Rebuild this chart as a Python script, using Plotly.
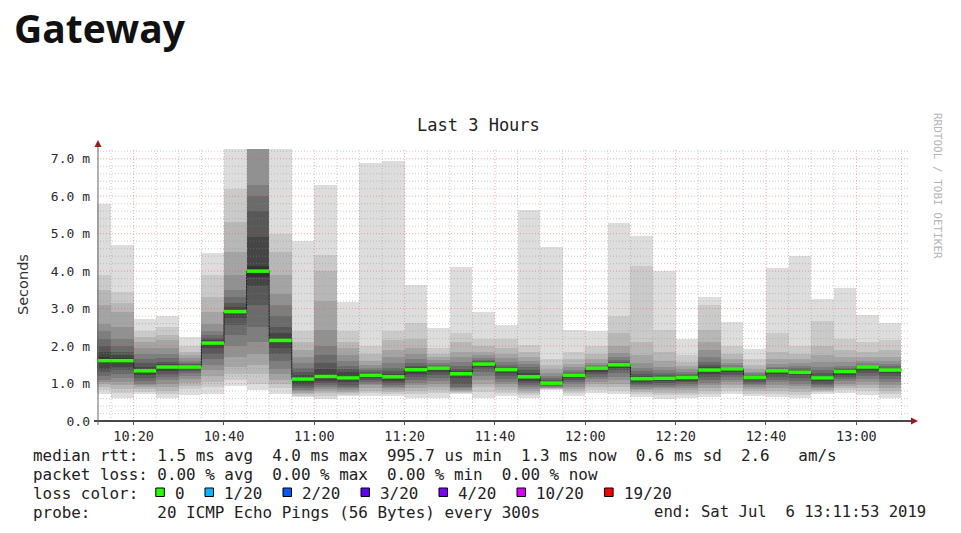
import pandas as pd
import plotly.graph_objects as go

DAY = "2019-07-06"
window = ["10:11:53", "13:11:53"]

# start of each 5 minute step (one smoke bar per step)
bar_start = [
    "10:10", "10:15", "10:20", "10:25", "10:30", "10:35", "10:40", "10:45", "10:50",
    "10:55", "11:00", "11:05", "11:10", "11:15", "11:20", "11:25", "11:30", "11:35",
    "11:40", "11:45", "11:50", "11:55", "12:00", "12:05", "12:10", "12:15", "12:20",
    "12:25", "12:30", "12:35", "12:40", "12:45", "12:50", "12:55", "13:00", "13:05",
]

# median rtt per step, ms
median_ms = [
    1.61, 1.61, 1.34, 1.44, 1.44, 2.08, 2.92, 4.00, 2.15, 1.12,
    1.19, 1.15, 1.22, 1.18, 1.37, 1.41, 1.26, 1.52, 1.37, 1.18,
    1.01, 1.22, 1.41, 1.50, 1.13, 1.14, 1.16, 1.36, 1.39, 1.16,
    1.34, 1.30, 1.15, 1.32, 1.44, 1.36,
]

# the 20 sorted ping rtts of every step, ms
pings_1010 = [0.72, 0.82, 0.90, 0.98, 1.05, 1.10, 1.20, 1.30, 1.40, 1.55, 1.70, 1.85, 2.00, 2.20, 2.40, 2.60, 3.10, 3.50, 3.90, 5.80]
pings_1015 = [0.62, 0.75, 0.85, 0.95, 1.05, 1.15, 1.25, 1.35, 1.45, 1.55, 1.68, 1.75, 1.85, 2.00, 2.20, 2.50, 2.90, 3.15, 3.45, 4.71]
pings_1020 = [0.71, 0.78, 0.85, 0.90, 0.95, 1.00, 1.08, 1.15, 1.22, 1.30, 1.38, 1.45, 1.55, 1.65, 1.80, 1.95, 2.10, 2.25, 2.40, 2.72]
pings_1025 = [0.62, 0.72, 0.80, 0.90, 1.00, 1.10, 1.18, 1.25, 1.33, 1.40, 1.47, 1.52, 1.58, 1.68, 1.80, 1.95, 2.15, 2.30, 2.50, 2.79]
pings_1030 = [0.70, 0.85, 0.93, 1.02, 1.12, 1.20, 1.27, 1.33, 1.38, 1.42, 1.46, 1.48, 1.51, 1.55, 1.60, 1.67, 1.75, 1.85, 2.00, 2.24]
pings_1035 = [0.71, 0.90, 1.05, 1.20, 1.35, 1.50, 1.65, 1.80, 1.95, 2.05, 2.11, 2.15, 2.22, 2.30, 2.40, 2.60, 2.90, 3.30, 3.90, 4.48]
pings_1040 = [0.94, 1.10, 1.25, 1.45, 1.70, 2.00, 2.30, 2.55, 2.75, 2.88, 2.97, 3.05, 3.15, 3.30, 3.50, 3.90, 4.50, 5.30, 6.20, 7.60]
pings_1045 = [0.82, 1.00, 1.25, 1.50, 1.80, 2.10, 2.50, 3.10, 3.60, 3.85, 4.15, 4.90, 5.60, 6.00, 6.30, 7.40, 7.80, 8.30, 8.90, 9.60]
pings_1050 = [0.72, 0.88, 1.00, 1.10, 1.25, 1.40, 1.60, 1.80, 1.95, 2.10, 2.20, 2.35, 2.50, 2.80, 3.10, 3.40, 3.90, 4.50, 5.00, 7.50]
pings_1055 = [0.64, 0.68, 0.72, 0.76, 0.80, 0.84, 0.89, 0.94, 1.00, 1.08, 1.17, 1.24, 1.32, 1.42, 1.55, 1.70, 1.90, 2.10, 2.40, 4.81]
pings_1100 = [0.60, 0.68, 0.74, 0.80, 0.85, 0.90, 0.96, 1.02, 1.08, 1.15, 1.25, 1.38, 1.55, 1.75, 2.00, 2.43, 3.20, 4.00, 4.44, 6.31]
pings_1105 = [0.66, 0.70, 0.74, 0.78, 0.82, 0.87, 0.92, 0.97, 1.03, 1.10, 1.20, 1.30, 1.38, 1.47, 1.60, 1.75, 1.95, 2.10, 2.40, 3.18]
pings_1110 = [0.66, 0.74, 0.80, 0.88, 0.95, 1.00, 1.05, 1.10, 1.15, 1.20, 1.24, 1.27, 1.31, 1.36, 1.42, 1.50, 1.60, 1.80, 2.00, 6.88]
pings_1115 = [0.66, 0.72, 0.77, 0.82, 0.87, 0.92, 0.97, 1.02, 1.08, 1.14, 1.21, 1.26, 1.33, 1.42, 1.55, 1.70, 1.90, 2.15, 2.40, 6.95]
pings_1120 = [0.62, 0.72, 0.80, 0.88, 0.95, 1.02, 1.10, 1.17, 1.25, 1.33, 1.39, 1.43, 1.48, 1.55, 1.65, 1.80, 1.95, 2.20, 2.62, 3.64]
pings_1125 = [0.62, 0.75, 0.84, 0.92, 1.00, 1.08, 1.15, 1.22, 1.30, 1.38, 1.42, 1.44, 1.46, 1.50, 1.55, 1.62, 1.70, 1.80, 1.95, 2.49]
pings_1130 = [0.72, 0.74, 0.77, 0.80, 0.84, 0.88, 0.92, 1.00, 1.15, 1.23, 1.29, 1.34, 1.40, 1.48, 1.58, 1.70, 1.85, 2.10, 2.35, 4.10]
pings_1135 = [0.62, 0.78, 0.90, 1.00, 1.10, 1.20, 1.30, 1.38, 1.45, 1.50, 1.54, 1.56, 1.59, 1.63, 1.68, 1.75, 1.85, 2.00, 2.20, 2.91]
pings_1140 = [0.66, 0.74, 0.82, 0.90, 0.98, 1.05, 1.12, 1.20, 1.28, 1.34, 1.39, 1.41, 1.45, 1.50, 1.58, 1.68, 1.80, 1.95, 2.20, 2.55]
pings_1145 = [0.62, 0.70, 0.75, 0.80, 0.85, 0.90, 0.96, 1.02, 1.08, 1.15, 1.22, 1.28, 1.36, 1.44, 1.52, 1.60, 1.70, 1.85, 2.04, 5.64]
pings_1150 = [0.84, 0.85, 0.86, 0.87, 0.89, 0.91, 0.93, 0.95, 0.97, 1.00, 1.03, 1.05, 1.09, 1.14, 1.20, 1.28, 1.38, 1.50, 1.65, 4.65]
pings_1155 = [0.66, 0.74, 0.80, 0.86, 0.92, 0.98, 1.04, 1.10, 1.15, 1.20, 1.24, 1.26, 1.29, 1.32, 1.37, 1.43, 1.52, 1.65, 1.85, 2.44]
pings_1200 = [0.75, 0.82, 0.90, 0.98, 1.05, 1.12, 1.18, 1.25, 1.32, 1.38, 1.42, 1.43, 1.45, 1.47, 1.50, 1.56, 1.65, 1.80, 2.00, 2.40]
pings_1205 = [0.72, 0.80, 0.90, 1.00, 1.10, 1.18, 1.27, 1.35, 1.42, 1.48, 1.52, 1.54, 1.57, 1.62, 1.70, 1.82, 2.00, 2.35, 2.80, 5.28]
pings_1210 = [0.65, 0.72, 0.77, 0.82, 0.86, 0.90, 0.95, 0.99, 1.04, 1.10, 1.16, 1.20, 1.26, 1.33, 1.42, 1.55, 1.75, 2.10, 4.13, 4.93]
pings_1215 = [0.60, 0.70, 0.76, 0.82, 0.87, 0.92, 0.97, 1.02, 1.07, 1.12, 1.16, 1.19, 1.22, 1.28, 1.36, 1.45, 1.60, 1.85, 2.44, 4.00]
pings_1220 = [0.62, 0.70, 0.76, 0.82, 0.88, 0.93, 0.98, 1.03, 1.08, 1.13, 1.17, 1.19, 1.22, 1.26, 1.31, 1.38, 1.46, 1.58, 1.75, 2.20]
pings_1225 = [0.64, 0.72, 0.80, 0.88, 0.95, 1.02, 1.10, 1.18, 1.26, 1.33, 1.38, 1.43, 1.50, 1.58, 1.70, 1.90, 2.10, 2.44, 3.10, 3.32]
pings_1230 = [0.72, 0.80, 0.88, 0.96, 1.03, 1.10, 1.17, 1.24, 1.30, 1.36, 1.40, 1.41, 1.43, 1.45, 1.49, 1.55, 1.65, 1.80, 2.00, 2.64]
pings_1235 = [0.66, 0.72, 0.79, 0.85, 0.90, 0.95, 1.00, 1.05, 1.10, 1.14, 1.17, 1.18, 1.20, 1.23, 1.27, 1.32, 1.40, 1.50, 1.65, 1.91]
pings_1240 = [0.64, 0.72, 0.80, 0.88, 0.96, 1.03, 1.10, 1.18, 1.25, 1.31, 1.35, 1.36, 1.38, 1.41, 1.45, 1.53, 1.65, 1.85, 2.35, 4.08]
pings_1245 = [0.62, 0.70, 0.78, 0.85, 0.93, 1.00, 1.08, 1.15, 1.22, 1.28, 1.32, 1.34, 1.37, 1.41, 1.47, 1.55, 1.65, 1.80, 2.00, 4.41]
pings_1250 = [0.73, 0.77, 0.80, 0.84, 0.88, 0.92, 0.96, 1.00, 1.06, 1.12, 1.17, 1.21, 1.27, 1.35, 1.45, 1.58, 1.75, 2.00, 2.66, 3.26]
pings_1255 = [0.76, 0.82, 0.88, 0.94, 1.00, 1.06, 1.12, 1.18, 1.24, 1.29, 1.33, 1.35, 1.38, 1.42, 1.48, 1.57, 1.70, 1.90, 2.20, 3.55]
pings_1300 = [0.70, 0.79, 0.87, 0.95, 1.03, 1.11, 1.19, 1.27, 1.35, 1.41, 1.45, 1.46, 1.48, 1.50, 1.54, 1.60, 1.70, 1.85, 2.10, 2.84]
pings_1305 = [0.62, 0.72, 0.80, 0.88, 0.96, 1.04, 1.12, 1.20, 1.28, 1.34, 1.38, 1.40, 1.42, 1.46, 1.52, 1.60, 1.72, 1.90, 2.15, 2.62]

x_tick_labels = ["10:20", "10:40", "11:00", "11:20", "11:40", "12:00", "12:20", "12:40", "13:00"]
y_tick_vals = [0, 1, 2, 3, 4, 5, 6, 7]
y_tick_labels = ["0.0", "1.0 m", "2.0 m", "3.0 m", "4.0 m", "5.0 m", "6.0 m", "7.0 m"]

loss_labels = ["0", "1/20", "2/20", "3/20", "4/20", "10/20", "19/20"]
loss_colors = ["#26ff00", "#00b8ff", "#0059ff", "#5e00ff", "#7e00ff", "#dd00ff", "#ff0000"]

rtt_line = "median rtt:  1.5 ms avg  4.0 ms max  995.7 us min  1.3 ms now  0.6 ms sd  2.6   am/s"
loss_line = "packet loss: 0.00 % avg  0.00 % max  0.00 % min  0.00 % now"
color_head = "loss color:"
probe_line = "probe:       20 ICMP Echo Pings (56 Bytes) every 300s"
end_line = "end: Sat Jul  6 13:11:53 2019"

smoke_rows = [
    pings_1010, pings_1015, pings_1020, pings_1025, pings_1030, pings_1035,
    pings_1040, pings_1045, pings_1050, pings_1055, pings_1100, pings_1105,
    pings_1110, pings_1115, pings_1120, pings_1125, pings_1130, pings_1135,
    pings_1140, pings_1145, pings_1150, pings_1155, pings_1200, pings_1205,
    pings_1210, pings_1215, pings_1220, pings_1225, pings_1230, pings_1235,
    pings_1240, pings_1245, pings_1250, pings_1255, pings_1300, pings_1305,
]

MONO = "DejaVu Sans Mono"
STEP = pd.Timedelta(minutes=5)
W, H = 961, 533
ML, MR, MT, MB = 97, 51, 149, 112
PW, PH = W - ML - MR, H - MT - MB


def px(x):
    return (x - ML) / PW


def py(y):
    return (H - MB - y) / PH


def nb(s):
    return s.replace(" ", "\u00a0")


def label(txt, x, y, anchor="left", size=15.9):
    return dict(text=nb(txt), x=px(x), y=py(y), xref="paper", yref="paper",
                xanchor=anchor, yanchor="middle", showarrow=False,
                font=dict(family=MONO, size=size, color="#222222"))


starts = pd.to_datetime([f"{DAY} {t}" for t in bar_start])
centers = starts + STEP / 2
ends = starts + STEP

fig = go.Figure()

# smoke: band i spans ping i .. ping 21-i, darker towards the middle
half = 10
for i in range(1, half + 1):
    grey = int(190 / half * (half - i)) + 50
    lo = [row[i - 1] for row in smoke_rows]
    hi = [row[20 - i] for row in smoke_rows]
    fig.add_trace(
        go.Bar(
            x=centers,
            y=[h - l for h, l in zip(hi, lo)],
            base=lo,
            width=STEP.total_seconds() * 1000,
            marker=dict(color=f"rgb({grey},{grey},{grey})", line=dict(width=0)),
            showlegend=False,
            hoverinfo="skip",
        )
    )

# thin dark step joining the medians
fig.add_trace(
    go.Scatter(
        x=list(starts) + [ends[-1]],
        y=median_ms + [median_ms[-1]],
        mode="lines",
        line=dict(shape="hv", color="#202020", width=1),
        showlegend=False,
        hoverinfo="skip",
    )
)

# median bars coloured by loss (all 0 loss -> green)
mx, my = [], []
for s, e, m in zip(starts, ends, median_ms):
    mx += [s, e, None]
    my += [m, m, None]
fig.add_trace(
    go.Scatter(
        x=mx, y=my, mode="lines",
        line=dict(color=loss_colors[0], width=3.5),
        showlegend=False, hoverinfo="skip",
    )
)

shapes = []
# rrdtool grid is painted over the graph
t0 = pd.Timestamp(f"{DAY} {window[0]}")
t1 = pd.Timestamp(f"{DAY} {window[1]}")
t = t0.ceil("5min")
while t < t1:
    major = t.minute % 20 == 0
    shapes.append(dict(
        type="line", xref="x", yref="paper", x0=t, x1=t, y0=0, y1=1, layer="above",
        line=dict(color="rgba(255,60,60,0.45)" if major else "rgba(140,140,140,0.45)",
                  width=1, dash="1px,2px"),
    ))
    t += STEP
for k in range(1, 37):
    v = k * 0.2
    major = k % 5 == 0
    shapes.append(dict(
        type="line", xref="paper", yref="y", x0=0, x1=1, y0=v, y1=v, layer="above",
        line=dict(color="rgba(255,60,60,0.45)" if major else "rgba(140,140,140,0.45)",
                  width=1, dash="1px,2px"),
    ))

# axes with arrows
shapes.append(dict(type="line", xref="paper", yref="paper", x0=px(94), x1=px(912),
                   y0=py(421), y1=py(421), line=dict(color="#484848", width=2), layer="above"))
shapes.append(dict(type="line", xref="paper", yref="paper", x0=px(98), x1=px(98),
                   y0=py(425), y1=py(146), line=dict(color="#666666", width=1), layer="above"))
shapes.append(dict(type="path", xref="paper", yref="paper", layer="above",
                   path=f"M{px(911)},{py(417.5)} L{px(918)},{py(421)} L{px(911)},{py(424.5)} Z",
                   fillcolor="#a01818", line=dict(width=0)))
shapes.append(dict(type="path", xref="paper", yref="paper", layer="above",
                   path=f"M{px(94.5)},{py(147)} L{px(98)},{py(140)} L{px(101.5)},{py(147)} Z",
                   fillcolor="#a01818", line=dict(width=0)))

annotations = [
    dict(text="<b>Gateway</b>", x=px(12), y=py(27), xref="paper", yref="paper",
         xanchor="left", yanchor="middle", showarrow=False,
         font=dict(family="Open Sans", size=39, color="#111111")),
    dict(text="Last 3 Hours", x=px(478), y=py(125), xref="paper", yref="paper",
         xanchor="center", yanchor="middle", showarrow=False,
         font=dict(family=MONO, size=17, color="#222222")),
    dict(text="Seconds", x=px(23), y=py(285), xref="paper", yref="paper", textangle=-90,
         xanchor="center", yanchor="middle", showarrow=False,
         font=dict(family="DejaVu Sans", size=14.5, color="#333333")),
    dict(text="RRDTOOL / TOBI OETIKER", x=px(938), y=py(186), xref="paper", yref="paper",
         textangle=90, xanchor="center", yanchor="middle", showarrow=False,
         font=dict(family=MONO, size=11, color="#b4b4b4")),
]

# legend block under the graph
CW = 9.6
LX = 31
annotations.append(label(rtt_line, LX, 455))
annotations.append(label(loss_line, LX, 474))
annotations.append(label(color_head, LX, 493))
annotations.append(label(probe_line, LX, 512))
annotations.append(label(end_line, 928, 512, anchor="right", size=15.6))

xb = LX + 13 * CW
for lab, colr in zip(loss_labels, loss_colors):
    shapes.append(dict(type="rect", xref="paper", yref="paper", layer="above",
                       x0=px(xb), x1=px(xb + 8.5), y0=py(496.5), y1=py(488),
                       fillcolor=colr, line=dict(color="#000000", width=1)))
    annotations.append(label(lab, xb + 17, 493))
    xb += 39.6 + len(lab) * CW

fig.update_layout(
    width=W, height=H, autosize=False,
    margin=dict(l=ML, r=MR, t=MT, b=MB, pad=0),
    paper_bgcolor="white", plot_bgcolor="white",
    barmode="overlay", bargap=0,
    shapes=shapes, annotations=annotations,
    showlegend=False,
)
fig.update_xaxes(
    type="date", range=[t0, t1], showgrid=False, zeroline=False, showline=False,
    tickvals=[f"{DAY} {lab}" for lab in x_tick_labels], ticktext=x_tick_labels,
    ticks="outside", ticklen=3, tickcolor="#555555",
    tickfont=dict(family=MONO, size=13.5, color="#2a2a2a"),
)
fig.update_yaxes(
    range=[0, 7.26], showgrid=False, zeroline=False, showline=False,
    tickvals=y_tick_vals, ticktext=y_tick_labels, ticks="",
    ticklabelstandoff=6,
    tickfont=dict(family=MONO, size=13, color="#2a2a2a"),
)

fig.write_html("out.html", config={"displayModeBar": False},
               post_script="document.body.style.margin = '0px';")
